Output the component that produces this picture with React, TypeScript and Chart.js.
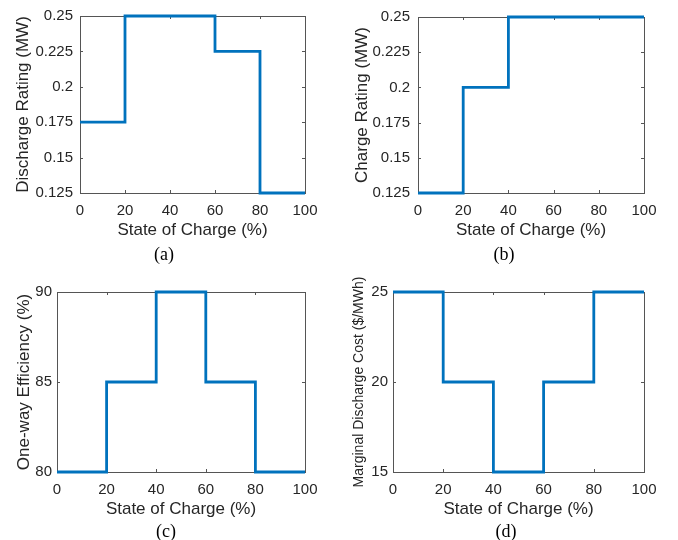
import { useEffect, useRef } from "react";
import { Chart, registerables } from "chart.js";

Chart.register(...registerables);

// ---- data ----
const stateOfCharge = [0, 20, 40, 60, 80, 100];
const xTickValues = [0, 20, 40, 60, 80, 100];

const dischargeRating = [0.175, 0.25, 0.25, 0.225, 0.125, 0.125];
const chargeRating = [0.125, 0.2, 0.25, 0.25, 0.25, 0.25];
const oneWayEfficiency = [80, 85, 90, 85, 80, 80];
const marginalDischargeCost = [25, 20, 15, 20, 25, 25];

const yTicksRating = [0.125, 0.15, 0.175, 0.2, 0.225, 0.25];
const yTicksEfficiency = [80, 85, 90];
const yTicksCost = [15, 20, 25];

const xTitle = "State of Charge (%)";
const captions = ["(a)", "(b)", "(c)", "(d)"];

// ---- styling ----
const SANS = "'Liberation Sans', Arial, Helvetica, sans-serif";
const SERIF = "'Liberation Serif', 'Times New Roman', serif";
const TEXT = "#262626";
const BOX = "#555555";
const LINE = "#0072BD";
const CW = 339;
const CH = 270;
const X_AXIS_H = 50;

type Panel = {
  left: number;
  top: number;
  plotLeft: number;
  plotTop: number;
  plotRight: number;
  plotBottom: number;
  values: number[];
  yTicks: number[];
  yTitle: string;
  yTitleSize: number;
  yTitleCenter: number;
  yLabelPad: number;
  caption: string;
  capX: number;
  capY: number;
};

const panels: Panel[] = [
  {
    left: 0, top: 0, plotLeft: 80, plotTop: 14, plotRight: 305, plotBottom: 193,
    values: dischargeRating, yTicks: yTicksRating, yTitle: "Discharge Rating (MW)",
    yTitleSize: 17, yTitleCenter: 23, yLabelPad: 7, caption: captions[0], capX: 164, capY: 254,
  },
  {
    left: 339, top: 0, plotLeft: 79, plotTop: 14, plotRight: 305, plotBottom: 193,
    values: chargeRating, yTicks: yTicksRating, yTitle: "Charge Rating (MW)",
    yTitleSize: 17, yTitleCenter: 23.5, yLabelPad: 8, caption: captions[1], capX: 504, capY: 254,
  },
  {
    left: 0, top: 270, plotLeft: 57, plotTop: 22, plotRight: 305, plotBottom: 202,
    values: oneWayEfficiency, yTicks: yTicksEfficiency, yTitle: "One-way Efficiency (%)",
    yTitleSize: 17, yTitleCenter: 24, yLabelPad: 5, caption: captions[2], capX: 166, capY: 531,
  },
  {
    left: 339, top: 270, plotLeft: 54, plotTop: 22, plotRight: 305, plotBottom: 202,
    values: marginalDischargeCost, yTicks: yTicksCost, yTitle: "Marginal Discharge Cost ($/MWh)",
    yTitleSize: 14, yTitleCenter: 20, yLabelPad: 5, caption: captions[3], capX: 506, capY: 531,
  },
];

const boxPlugin = {
  id: "matlabBox",
  beforeDatasetsDraw(chart: any) {
    const { ctx, chartArea: a, scales } = chart;
    const xs = scales.x;
    const ys = scales.y;
    const tl = 3;
    ctx.save();
    ctx.strokeStyle = BOX;
    ctx.lineWidth = 1;
    ctx.beginPath();
    for (const t of xs.ticks) {
      const px = Math.round(xs.getPixelForValue(t.value)) + 0.5;
      ctx.moveTo(px, a.bottom);
      ctx.lineTo(px, a.bottom - tl);
      ctx.moveTo(px, a.top);
      ctx.lineTo(px, a.top + tl);
    }
    for (const t of ys.ticks) {
      const py = Math.round(ys.getPixelForValue(t.value)) + 0.5;
      ctx.moveTo(a.left, py);
      ctx.lineTo(a.left + tl, py);
      ctx.moveTo(a.right, py);
      ctx.lineTo(a.right - tl, py);
    }
    ctx.stroke();
    ctx.strokeRect(
      Math.round(a.left) + 0.5,
      Math.round(a.top) + 0.5,
      Math.round(a.right) - Math.round(a.left),
      Math.round(a.bottom) - Math.round(a.top)
    );
    ctx.restore();
  },
};

function PanelChart({ p }: { p: Panel }) {
  const ref = useRef<HTMLCanvasElement | null>(null);
  useEffect(() => {
    if (!ref.current) return;
    const chart = new Chart(ref.current, {
      type: "line",
      data: {
        datasets: [
          {
            data: stateOfCharge.map((x, i) => ({ x, y: p.values[i] })),
            borderColor: LINE,
            borderWidth: 2.8,
            pointRadius: 0,
            stepped: "before",
            fill: false,
            clip: false,
          } as any,
        ],
      },
      options: {
        animation: false,
        responsive: false,
        layout: {
          padding: {
            left: 0,
            top: p.plotTop,
            right: CW - p.plotRight,
            bottom: CH - p.plotBottom - X_AXIS_H,
          },
        },
        plugins: {
          legend: { display: false },
          tooltip: { enabled: false },
        },
        scales: {
          x: {
            type: "linear",
            min: xTickValues[0],
            max: xTickValues[xTickValues.length - 1],
            afterBuildTicks: (s: any) => {
              s.ticks = xTickValues.map((v) => ({ value: v }));
            },
            afterFit: (s: any) => {
              s.height = X_AXIS_H;
            },
            grid: { display: false, drawTicks: false },
            border: { display: false },
            ticks: {
              padding: 9,
              color: TEXT,
              font: { family: SANS, size: 15 },
              maxRotation: 0,
              autoSkip: false,
              callback: (v: any) => String(v),
            },
            title: {
              display: true,
              text: xTitle,
              color: TEXT,
              font: { family: SANS, size: 17 },
              padding: { top: 0, bottom: 2 },
            },
          },
          y: {
            type: "linear",
            min: p.yTicks[0],
            max: p.yTicks[p.yTicks.length - 1],
            afterBuildTicks: (s: any) => {
              s.ticks = p.yTicks.map((v) => ({ value: v }));
            },
            afterFit: (s: any) => {
              s.width = p.plotLeft;
            },
            grid: { display: false, drawTicks: false },
            border: { display: false },
            ticks: {
              padding: p.yLabelPad,
              color: TEXT,
              font: { family: SANS, size: 15 },
              autoSkip: false,
              callback: (v: any) => String(v),
            },
            title: {
              display: true,
              text: p.yTitle,
              color: TEXT,
              font: { family: SANS, size: p.yTitleSize },
              padding: { top: p.yTitleCenter - (p.yTitleSize * 1.2) / 2, bottom: 0 },
            },
          },
        },
      } as any,
      plugins: [boxPlugin],
    });
    return () => chart.destroy();
  }, [p]);

  return (
    <canvas
      ref={ref}
      width={CW}
      height={CH}
      style={{ position: "absolute", left: p.left, top: p.top, width: CW, height: CH }}
    />
  );
}

export default function App() {
  return (
    <div
      style={{
        position: "absolute",
        left: 0,
        top: 0,
        width: 678,
        height: 540,
        background: "#ffffff",
        overflow: "hidden",
      }}
    >
      {panels.map((p, i) => (
        <PanelChart key={i} p={p} />
      ))}
      {panels.map((p, i) => (
        <div
          key={"c" + i}
          style={{
            position: "absolute",
            left: p.capX,
            top: p.capY,
            transform: "translate(-50%, -50%)",
            fontFamily: SERIF,
            fontSize: 18,
            lineHeight: 1,
            color: "#000",
            whiteSpace: "nowrap",
          }}
        >
          {p.caption}
        </div>
      ))}
    </div>
  );
}
